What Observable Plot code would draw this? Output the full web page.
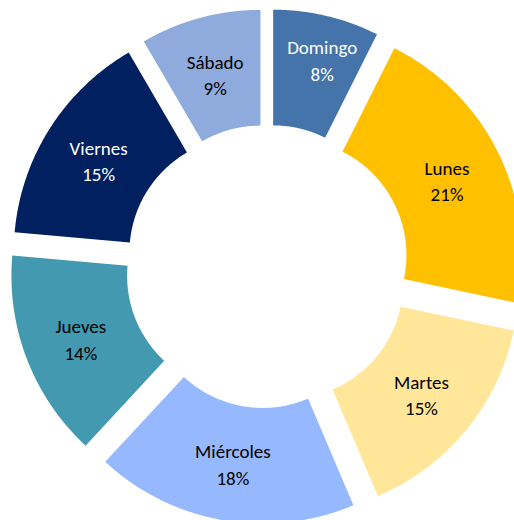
<!DOCTYPE html>
<html>
<head>
<meta charset="utf-8">
<script src="https://cdn.jsdelivr.net/npm/d3@7"></script>
<script src="https://cdn.jsdelivr.net/npm/@observablehq/plot@0.6"></script>
<style>
  html, body { margin: 0; padding: 0; background: #fff; }
  #chart svg { display: block; overflow: hidden; }
</style>
</head>
<body>
<div id="chart"></div>
<script>
// ---- data ----
const days = ["Domingo", "Lunes", "Martes", "Miércoles", "Jueves", "Viernes", "Sábado"];
// printed percentage labels
const labelPct = [8, 21, 15, 18, 14, 15, 9];
// angular share of each slice as drawn (measured from the slice edges)
const sliceShare = [7.4, 20.9, 15.3, 18.3, 14.5, 15.2, 8.4];
const sliceColors = ["#4574AA", "#FFC000", "#FFE699", "#95B8FF", "#4399B0", "#002060", "#8FAADC"];
const labelColors = ["#FFFFFF", "#000000", "#000000", "#000000", "#000000", "#FFFFFF", "#000000"];

// ---- layout ----
const W = 514, H = 520;
const cx = 266.7, cy = 266;    // pie centre
const R = 231.6, r = 115.9;    // outer / inner radius
const explode = 25.9;          // explosion offset
const labelNudge = {Domingo: [9, -13]};

const rows = days.map((d, i) => ({day: d, share: sliceShare[i], pct: labelPct[i], color: sliceColors[i], label: labelColors[i]}));
const arcs = d3.pie().sort(null).value(d => d.share)(rows);

const pt = (ox, oy, rho, a) => [ox + rho * Math.sin(a), oy - rho * Math.cos(a)];

const polys = [];
const labels = [];
for (const a of arcs) {
  const mid = (a.startAngle + a.endAngle) / 2;
  const [ox, oy] = pt(cx, cy, explode, mid);
  const n = 90;
  for (let k = 0; k <= n; k++) {
    const t = a.startAngle + (a.endAngle - a.startAngle) * k / n;
    const [x, y] = pt(ox, oy, R, t);
    polys.push({day: a.data.day, color: a.data.color, x, y});
  }
  for (let k = n; k >= 0; k--) {
    const t = a.startAngle + (a.endAngle - a.startAngle) * k / n;
    const [x, y] = pt(ox, oy, r, t);
    polys.push({day: a.data.day, color: a.data.color, x, y});
  }
  const [lx, ly] = pt(ox, oy, (R + r) / 2, mid);
  const [nx, ny] = labelNudge[a.data.day] || [0, 0];
  labels.push({x: lx + nx, y: ly + ny, text: `${a.data.day}\n${a.data.pct}%`, color: a.data.label});
}

const chart = Plot.plot({
  width: W,
  height: H,
  margin: 0,
  x: {domain: [0, W], range: [0, W], axis: null},
  y: {domain: [0, H], range: [0, H], axis: null},
  color: {type: "identity"},
  style: {background: "#fff", overflow: "hidden"},
  marks: [
    Plot.line(polys, {x: "x", y: "y", z: "day", fill: "color", stroke: "none", curve: "linear-closed", clip: true}),
    Plot.text(labels, {x: "x", y: "y", text: "text", fill: "color", fontSize: 19, lineHeight: 1.39,
      fontFamily: "Carlito, Lato, 'Open Sans', sans-serif"})
  ]
});
document.getElementById("chart").append(chart);
</script>
</body>
</html>
